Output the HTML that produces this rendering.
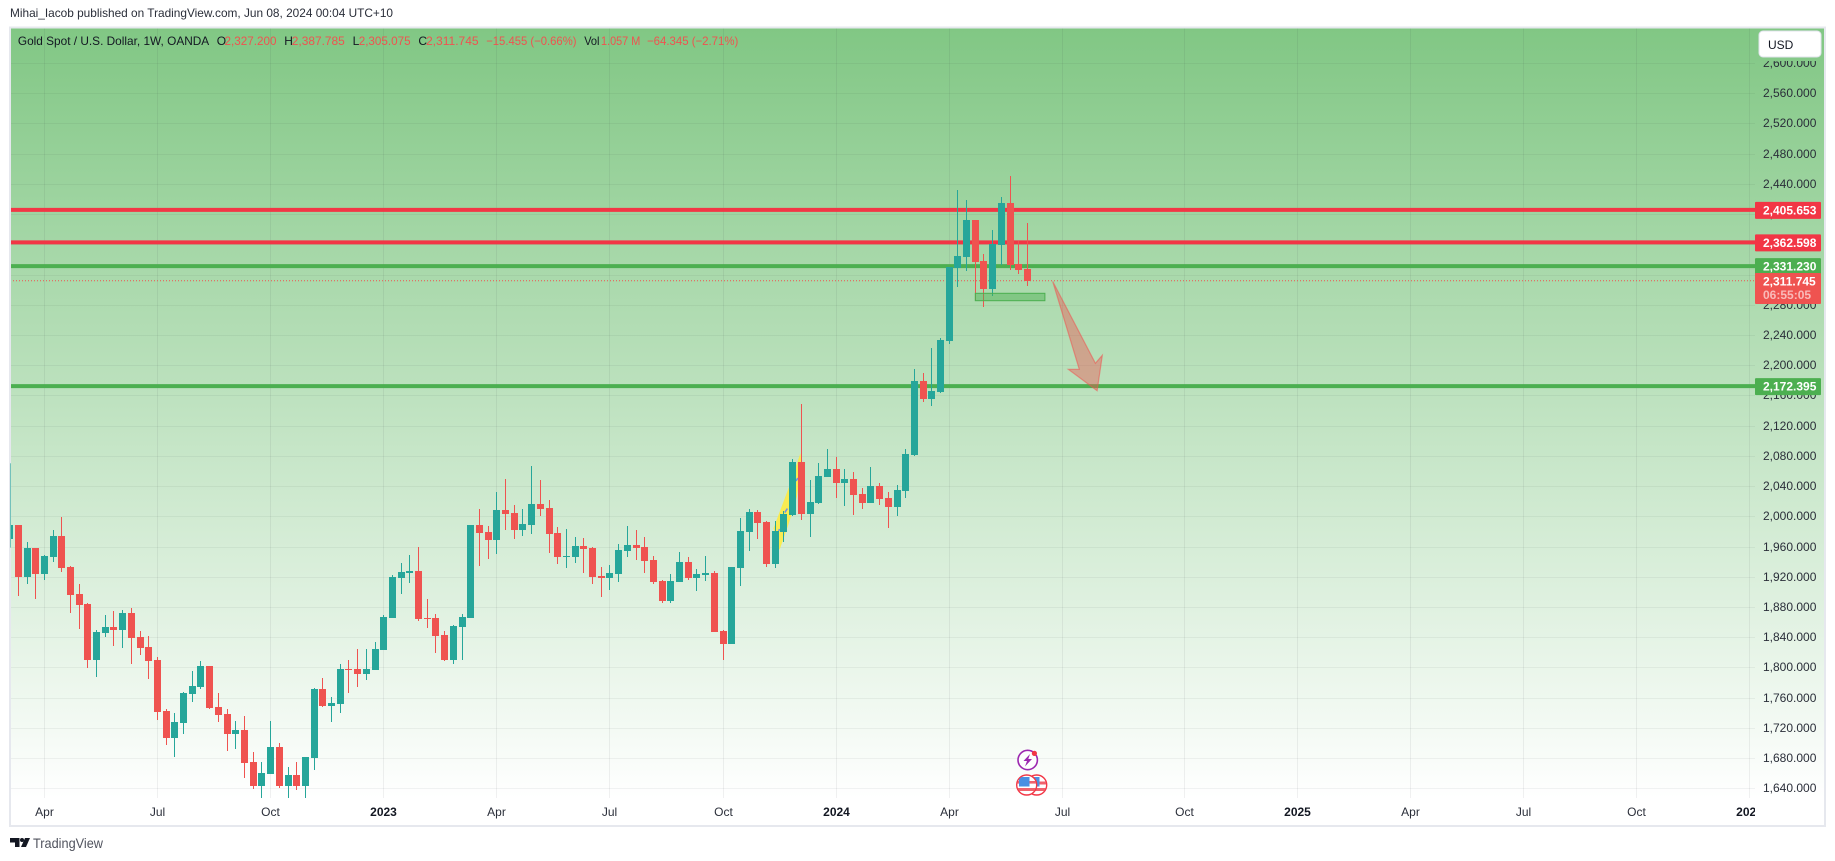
<!DOCTYPE html>
<html lang="en">
<head>
<meta charset="utf-8">
<title>Gold Spot / U.S. Dollar, 1W, OANDA</title>
<style>
html,body{margin:0;padding:0;background:#fff;width:1835px;height:861px;overflow:hidden}
svg{display:block;font-family:"Liberation Sans",sans-serif}
</style>
</head>
<body>
<svg id="chart" xmlns="http://www.w3.org/2000/svg" width="1835" height="861" viewBox="0 0 1835 861">
  <defs>
    <linearGradient id="paneFill" gradientUnits="userSpaceOnUse" x1="0" y1="28" x2="0" y2="798">
      <stop offset="0" stop-color="#81c784"/>
      <stop offset="1" stop-color="#ffffff"/>
    </linearGradient>
    <clipPath id="paneClip"><rect x="10" y="28" width="1745" height="770"/></clipPath>
    <clipPath id="timeClip"><rect x="10" y="798" width="1745" height="27"/></clipPath>
    <clipPath id="flagA"><circle cx="1026.7" cy="785" r="9.5"/></clipPath>
    <clipPath id="flagB"><circle cx="1036.7" cy="785" r="9.5"/></clipPath>
  </defs>

  <text x="10" y="17" font-size="12" fill="#2a2e39" textLength="383" lengthAdjust="spacingAndGlyphs">Mihai_Iacob published on TradingView.com, Jun 08, 2024 00:04 UTC+10</text>

  <rect x="10" y="28" width="1814" height="770" fill="url(#paneFill)"/>
  <rect x="10" y="798" width="1814" height="27" fill="#ffffff"/>
  <g id="gridLayer"></g>
  <g id="priceLabels" font-size="12" fill="#2a2e39"></g>
  <g id="timeLabels" font-size="12" fill="#2a2e39" clip-path="url(#timeClip)"></g>
  <g id="levelLayer" clip-path="url(#paneClip)"></g>
  <g id="sketchLayer" clip-path="url(#paneClip)"></g>
  <g id="candleLayer" clip-path="url(#paneClip)"></g>
  <g id="drawLayer" clip-path="url(#paneClip)"></g>
  <g id="tagLayer" font-size="12" font-weight="700"></g>

  <g font-size="12">
    <text x="17.9" y="45" fill="#131722" textLength="191.3" lengthAdjust="spacingAndGlyphs">Gold Spot / U.S. Dollar, 1W, OANDA</text>
    <text x="216.8" y="45" fill="#131722">O</text>
    <text x="224.5" y="45" fill="#ef5350" textLength="52" lengthAdjust="spacingAndGlyphs">2,327.200</text>
    <text x="284.2" y="45" fill="#131722">H</text>
    <text x="291.8" y="45" fill="#ef5350" textLength="53" lengthAdjust="spacingAndGlyphs">2,387.785</text>
    <text x="352.6" y="45" fill="#131722">L</text>
    <text x="358.7" y="45" fill="#ef5350" textLength="52" lengthAdjust="spacingAndGlyphs">2,305.075</text>
    <text x="418.4" y="45" fill="#131722">C</text>
    <text x="426" y="45" fill="#ef5350" textLength="52.6" lengthAdjust="spacingAndGlyphs">2,311.745</text>
    <text x="486.2" y="45" fill="#ef5350" textLength="90.3" lengthAdjust="spacingAndGlyphs">−15.455 (−0.66%)</text>
    <text x="584.2" y="45" fill="#131722" textLength="15.3" lengthAdjust="spacingAndGlyphs">Vol</text>
    <text x="601" y="45" fill="#ef5350" textLength="39.3" lengthAdjust="spacingAndGlyphs">1.057 M</text>
    <text x="647" y="45" fill="#ef5350" textLength="91.3" lengthAdjust="spacingAndGlyphs">−64.345 (−2.71%)</text>
  </g>

  <rect x="1756" y="28" width="68" height="33" fill="url(#paneFill)"/>
  <g>
    <rect x="1759" y="31" width="62" height="26" rx="4" fill="#ffffff" stroke="#e0e3eb" stroke-width="1"/>
    <text x="1768" y="49" font-size="12" fill="#131722">USD</text>
  </g>

  <g>
    <circle cx="1027.7" cy="760" r="9.7" fill="#ffffff" fill-opacity="0.75" stroke="#9c27b0" stroke-width="1.6"/>
    <polygon points="1030,754 1023.5,761 1027,761 1025,766.5 1032,759 1028.3,759" fill="#9c27b0"/>
    <circle cx="1034.4" cy="753.4" r="2.6" fill="#f23645"/>
  </g>
  <g>
    <circle cx="1036.7" cy="785" r="10" fill="#ffffff" stroke="#f23645" stroke-width="1.4"/>
    <g clip-path="url(#flagB)">
      <rect x="1027" y="781.5" width="20" height="3" fill="#f0626d"/>
      <rect x="1027" y="788" width="20" height="3" fill="#f0626d"/>
      <rect x="1029" y="777" width="10.5" height="9.5" fill="#4a90e2"/>
    </g>
  </g>
  <g>
    <circle cx="1026.7" cy="785" r="10" fill="#ffffff" stroke="#f23645" stroke-width="1.4"/>
    <g clip-path="url(#flagA)">
      <rect x="1017" y="781" width="20" height="2.6" fill="#f0626d"/>
      <rect x="1017" y="788" width="20" height="3" fill="#f0626d"/>
      <rect x="1019" y="777" width="10.5" height="9.5" fill="#4a90e2"/>
    </g>
  </g>

  <rect x="10" y="27.5" width="1815" height="798.5" fill="none" stroke="#e6e8ee" stroke-width="2"/>
  <g id="edgeLayer"></g>

  <g>
    <polygon points="10,838 19.5,838 19.5,847 15,847 15,842.5 10,842.5" fill="#131722"/>
    <circle cx="22" cy="840" r="2" fill="#131722"/>
    <polygon points="25,838 30,838 26,847 21,847" fill="#131722"/>
    <text x="33" y="848" font-size="14" fill="#50535e" textLength="70" lengthAdjust="spacingAndGlyphs">TradingView</text>
  </g>
</svg>

<script>
// Weekly OHLC; index 0 is the first visible week, one entry per week.
const opens = [1970,1988.5,1919.7,1958.1,1923.7,1946.2,1974,1932.9,1897.2,1884,
1809.8,1845.6,1853.5,1849.6,1872.1,1840.3,1827.1,1809.8,1742.3,1706.6,
1726.5,1764.8,1774.1,1801.9,1747.6,1738.4,1711.9,1717.2,1674.8,1643.1,
1658.9,1694.7,1643.1,1657.6,1643.1,1680.1,1771.5,1749,1751.6,1797.9,
1797.9,1791.3,1796.6,1823.1,1865.4,1918.4,1925,1927.6,1865.4,1865.4,
1842.9,1809.8,1853.5,1865.4,1988.5,1979.3,1968.7,2008.4,2004.4,1981.9,
1988.5,2016.3,2011,1977.9,1946.2,1946.2,1960.7,1958.1,1921,1918.4,
1923.7,1954.1,1962.1,1959.4,1942.2,1914.4,1887.9,1913.1,1939.6,1918.4,
1922.3,1925,1848.2,1831,1931.6,1979.3,2005.7,1992.5,1936.9,1979.3,
2001.8,2071.9,2003,2017.6,2052,2062.6,2044.1,2049.4,2029.5,2017.6,
2040.1,2024.2,2012.3,2033.5,2081.1,2179.1,2155.3,2164.6,2232.1,2328.7,
2343.3,2392.2,2338,2300.9,2359.2,2414.7,2334,2327.2];
const highs = [2070.2,1988.5,1966,1958.1,1948.8,1981.9,1999.1,1934.3,1910.4,1885.3,
1849.6,1869.4,1874.7,1876,1878.7,1848.2,1841.6,1813.8,1745,1739.7,
1767.5,1795.3,1808.5,1801.9,1766.2,1745,1729.1,1735.7,1688.1,1674.8,
1729.1,1700,1668.2,1674.8,1681.5,1772.8,1786,1760.9,1804.5,1809.8,
1824.4,1824.4,1833.7,1869.4,1922.3,1938.2,1948.8,1959.4,1890.6,1870.7,
1848.2,1856.2,1870.7,1988.5,2009.7,1987.2,2032.2,2049.4,2015,2009.7,
2066.6,2048.1,2021.6,1985.9,1983.2,1972.6,1971.3,1959.4,1932.9,1935.6,
1963.4,1987.2,1981.9,1972.6,1947.5,1915.7,1923.7,1952.8,1946.2,1930.3,
1947.5,1927.6,1849.6,1932.9,1997.8,2009.7,2008.4,1993.8,1993.8,2007.1,
2075.9,2148.6,2048,2070.5,2089.1,2078.5,2062.6,2058.6,2037.5,2065.2,
2044.1,2032.2,2041.4,2089.1,2195,2189.7,2222.8,2236.1,2330,2432,
2418.7,2392.2,2347.2,2379,2422.7,2450.5,2364.5,2387.785];
const lows = [1958.5,1894.6,1910.4,1890.6,1915.7,1939.6,1926.3,1872.1,1850.9,1799.3,
1787.3,1840.3,1828.4,1825.7,1804.6,1816.5,1784.7,1730.4,1697.3,1681.5,
1711.9,1754.3,1771.5,1745,1727.8,1689.4,1692,1653.7,1639.1,1627.2,
1658.9,1640.4,1627.2,1637.8,1627.2,1664.2,1747.6,1727.8,1739.7,1766.2,
1774.1,1783.4,1796.6,1823.1,1865.4,1897.2,1911.8,1861.5,1852.2,1819.1,
1808.5,1804.6,1809.8,1865.4,1934.3,1943.5,1950.1,1981.9,1970,1974,
1976.6,2000.4,1951.5,1936.9,1931.6,1938.2,1925,1910.4,1893.2,1902.5,
1913.1,1946.2,1942.2,1925,1910.4,1885.3,1885.3,1913.1,1915.7,1901.2,
1914.4,1846.9,1809.8,1831,1907.8,1954.1,1970,1932.9,1931.6,1966,
2000.4,1995.1,1972.6,2016.3,2052,2024.2,2013.6,2001.7,2009.7,2017.6,
2014.9,1984.5,2000.4,2024.2,2079.8,2151.4,2146.1,2163.3,2228.1,2303.6,
2324.7,2286.4,2277.1,2291.7,2332.7,2326.1,2320.8,2305.075];
const closes = [1988.5,1919.7,1958.1,1923.7,1947.5,1974,1931.6,1895.9,1882.6,1809.8,
1846.9,1853.5,1849.6,1872.1,1839,1825.7,1808.5,1741,1706.6,1727.8,
1766.2,1775.4,1801.9,1746.3,1737,1711.9,1717.2,1673.5,1643.1,1660.3,
1694.7,1643.1,1657.6,1643.1,1681.5,1771.5,1749,1752.9,1797.9,1796.6,
1791.3,1797.9,1824.4,1866.8,1919.7,1926.3,1927.6,1864.1,1864.1,1841.6,
1809.8,1854.8,1866.8,1988.5,1977.9,1968.7,2008.4,2003.1,1981.9,1989.9,
2016.3,2009.7,1976.6,1946.2,1947.5,1960.7,1956.8,1919.7,1918.4,1925,
1955.4,1962.1,1958.1,1940.9,1913.1,1887.9,1914.4,1939.6,1918.4,1923.7,
1925,1846.9,1831,1932.9,1980.6,2005.7,1991.2,1936.9,1980.6,2003.1,
2071.9,2003,2018.9,2053.3,2062.6,2044.1,2049.4,2028.2,2017.6,2040.1,
2022.9,2012.3,2034.8,2082.5,2179.1,2155.3,2165.9,2233.4,2330,2344.6,
2392.2,2336.7,2300.9,2360.5,2414.7,2332.7,2326.1,2311.745];

// Axis tick labels.
const priceTicks = [1640,1680,1720,1760,1800,1840,1880,1920,1960,2000,2040,2080,2120,2160,2200,2240,2280,2320,2360,2400,2440,2480,2520,2560,2600];
const timeTickLabels = ["Apr","Jul","Oct","2023","Apr","Jul","Oct","2024","Apr","Jul","Oct","2025","Apr","Jul","Oct","2026"];
const timeTickWeeks = [4,17,30,43,56,69,82,95,108,121,135,148,161,174,187,200];

// Horizontal levels and the live close tag.
const levelPrices = [2405.653,2362.598,2331.23,2172.395];
const levelLabels = ["2,405.653","2,362.598","2,331.230","2,172.395"];
const levelColors = ["#f23645","#f23645","#4caf50","#4caf50"];
const lastPrice = 2311.745;
const lastPriceLabel = "2,311.745";
const countdownLabel = "06:55:05";

// Drawings in chart units: [week, price].
const boxCorners = [[111,2295.2],[119,2285.4]];
const arrowPoints = [[119.9,2311],[122.95,2194.6],[121.7,2194.6],[125,2166.3],[125.6,2213.1],[124.8,2202.5]];
const yellowPoints = [[87.8,1984.1],[89.6,2039.2],[90.9,2083.4],[91,2072.3],[90.5,2026],[89.5,1988.5],[88.5,1955.4]];
const blueDashes = [[88.4,1980.6,88.5,1983.2],[89.1,2005,89.4,2010.3],[90.4,2046.7,90.6,2050.7]];

const SVG_NS = "http://www.w3.org/2000/svg";
const teal = "#26a69a";
const red = "#ef5350";

function xAt(week){ return 9.6 + 8.7 * week; }
function yAt(price){ return 788.3 - (price - 1640) * 0.7555; }
function money(v){ return v.toLocaleString("en-US",{minimumFractionDigits:3,maximumFractionDigits:3}); }
function make(tag, parent, attrs){
  const el = document.createElementNS(SVG_NS, tag);
  for (const k in attrs) el.setAttribute(k, attrs[k]);
  parent.appendChild(el);
  return el;
}

const gridLayer = document.getElementById("gridLayer");
const priceLabels = document.getElementById("priceLabels");
const timeLabels = document.getElementById("timeLabels");
const levelLayer = document.getElementById("levelLayer");
const sketchLayer = document.getElementById("sketchLayer");
const candleLayer = document.getElementById("candleLayer");
const drawLayer = document.getElementById("drawLayer");
const tagLayer = document.getElementById("tagLayer");
const edgeLayer = document.getElementById("edgeLayer");

// Grid and price axis.
priceTicks.forEach(function(p){
  const y = Math.round(yAt(p)) + 0.5;
  const line = make("line", gridLayer, {x1:10, x2:1755, y1:y, y2:y, stroke:"rgba(42,46,57,0.06)", "stroke-width":1});
  
  
  const label = make("text", priceLabels, {x:1763, y:y + 3.5});
  
  
  label.textContent = money(p);
});

// Vertical grid and time axis.
timeTickLabels.forEach(function(name, i){
  const x = Math.floor(xAt(timeTickWeeks[i])) + 0.5;
  const line = make("line", gridLayer, {x1:x, x2:x, y1:28, y2:798, stroke:"rgba(42,46,57,0.07)", "stroke-width":1});
  
  
  const isYear = /^\d+$/.test(name);
  const label = make("text", timeLabels, {x:x, y:816, "text-anchor":"middle", "font-weight":isYear ? "700" : "400", fill:isYear ? "#131722" : "#2a2e39"});
  
  
  label.textContent = name;
});

// Level lines.
levelPrices.forEach(function(p, i){
  const y = yAt(p);
  const line = make("line", levelLayer, {x1:10, x2:1755, y1:y, y2:y, stroke:levelColors[i], "stroke-width":4});
  
  
});
const closeLine = make("line", levelLayer, {x1:10, x2:1755, y1:yAt(lastPrice), y2:yAt(lastPrice), stroke:red, "stroke-width":1, "stroke-dasharray":"1 2"});



// Yellow sketch under the candles, around the late-2023 spike.
const yellow = make("polygon", sketchLayer, {
  points:yellowPoints.map(function(p){ return xAt(p[0]).toFixed(1) + "," + yAt(p[1]).toFixed(1); }).join(" "),
  fill:"rgba(255,235,59,0.85)"
});


blueDashes.forEach(function(s){
  const dash = make("line", sketchLayer, {x1:xAt(s[0]), y1:yAt(s[1]), x2:xAt(s[2]), y2:yAt(s[3]), stroke:"#6f8fe8", "stroke-width":1.5});
  
  
});

// Candles.
closes.forEach(function(c, i){
  const o = opens[i], h = highs[i], l = lows[i];
  const up = c >= o;
  const color = up ? teal : red;
  const x = Math.floor(xAt(i));
  const wickTop = Math.round(yAt(h));
  const wickBottom = Math.round(yAt(l));
  const bodyTop = Math.round(yAt(Math.max(o, c)));
  const bodyBottom = Math.round(yAt(Math.min(o, c)));
  const group = make("g", candleLayer, {});
  
  
  make("rect", group, {x:x, y:wickTop, width:1, height:Math.max(1, wickBottom - wickTop), fill:color});
  make("rect", group, {x:x - 3, y:bodyTop, width:7, height:Math.max(1, bodyBottom - bodyTop), fill:color});
});

// The first week's wick lies on the chart frame and shows through it faintly.
const edgeWick = make("rect", edgeLayer, {x:10, y:yAt(highs[0]), width:1, height:yAt(lows[0]) - yAt(highs[0]), fill:teal, "fill-opacity":"0.6"});



// Rectangle drawing.
const boxX = xAt(boxCorners[0][0]);
const boxY = yAt(boxCorners[0][1]);
const box = make("rect", drawLayer, {
  x:boxX, y:boxY,
  width:xAt(boxCorners[1][0]) - boxX,
  height:yAt(boxCorners[1][1]) - boxY,
  fill:"rgba(76,175,80,0.45)", stroke:"#4caf50", "stroke-width":1
});



// Arrow drawing.
const arrow = make("polygon", drawLayer, {
  points:arrowPoints.map(function(p){ return xAt(p[0]).toFixed(1) + "," + yAt(p[1]).toFixed(1); }).join(" "),
  fill:"rgba(239,83,80,0.42)", stroke:"rgba(239,83,80,0.55)", "stroke-width":1.2
});



// Price tags.
levelPrices.forEach(function(p, i){
  const y = yAt(p);
  const tag = make("rect", tagLayer, {x:1755, y:y - 8, width:66, height:17, rx:1, fill:levelColors[i]});
  
  
  const text = make("text", tagLayer, {x:1763, y:y + 4.5, fill:"#ffffff"});
  
  
  text.textContent = levelLabels[i];
});
const lastTag = make("rect", tagLayer, {x:1755, y:273, width:66, height:31, rx:1, fill:red});


const lastText = make("text", tagLayer, {x:1763, y:285.5, fill:"#ffffff"});


lastText.textContent = lastPriceLabel;
const countdownText = make("text", tagLayer, {x:1763, y:299, fill:"#ffffff", "fill-opacity":"0.6"});


countdownText.textContent = countdownLabel;
</script>
</body>
</html>
